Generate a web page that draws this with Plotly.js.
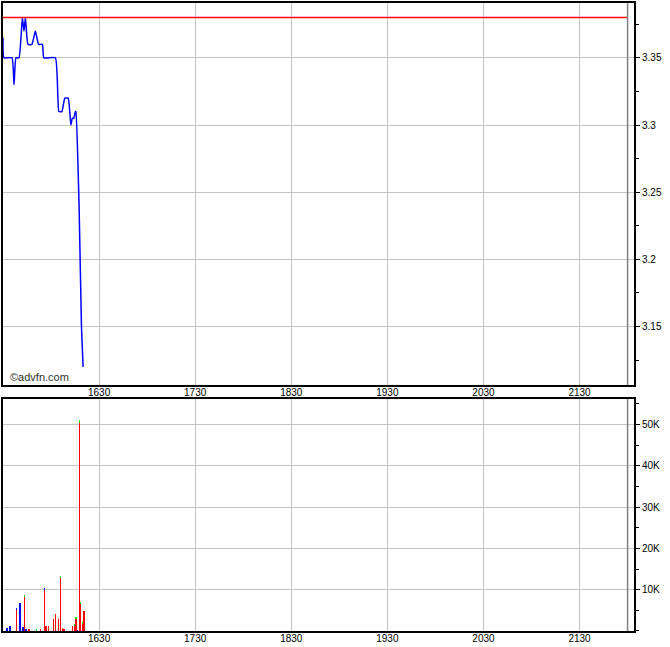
<!DOCTYPE html>
<html>
<head>
<meta charset="utf-8">
<script src="https://cdn.plot.ly/plotly-3.0.1.min.js"></script>
<style>html,body{margin:0;padding:0;background:#fff;}#chart{width:670px;height:647px;}</style>
</head>
<body>
<div id="chart"></div>
<script>
var DAY = '2024-01-02 ';
var priceTimes = ['15:30:00','15:30:36','15:35:36','15:36:54','15:38:06','15:40:00','15:42:06','15:43:06','15:44:00','15:45:36','15:48:06','15:50:12','15:52:12','15:54:36','15:55:30','16:02:42','16:04:54','16:06:48','16:08:36','16:10:42','16:12:24','16:13:18','16:14:12','16:15:12','16:15:30','16:17:30','16:19:00','16:20:00'];
var prices = [3.365,3.35,3.35,3.33,3.35,3.35,3.38,3.37,3.38,3.36,3.36,3.37,3.36,3.36,3.35,3.35,3.31,3.31,3.32,3.32,3.30,3.305,3.305,3.31,3.31,3.24,3.15,3.12];
var prevClose = 3.38;

var volTimes = ['15:32:30','15:34:24','15:38:18','15:40:36','15:42:30','15:43:18','15:44:24','15:46:12','15:51:00','15:53:24','15:55:48','15:56:48','15:58:18','16:01:42','16:02:48','16:04:30','16:05:48','16:07:00','16:08:06','16:13:18','16:14:30','16:15:36','16:16:24','16:17:36','16:18:18','16:19:30','16:20:36'];
var volDown    = [0,0,5200,0,0,8200,0,500,0,500,9900,1300,1300,2800,4200,2800,12800,700,400,1300,1100,3000,0,50500,6600,1700,4900];
var volUp      = [0,0,0,0,0,500,0,0,500,0,0,0,0,0,0,0,500,0,0,0,500,300,0,600,500,500,0];
var volNeutral = [800,1100,300,6900,1000,0,600,0,0,0,400,0,0,0,0,0,0,0,0,0,0,0,300,0,0,0,0];

var volTickVals = [10000,20000,30000,40000,50000];
var volTickText = ['10K','20K','30K','40K','50K'];

var sessionStart = DAY + '15:30:00';
var sessionEnd = DAY + '22:00:00';
var axisEnd = DAY + '22:04:00';

function withDay(a){ return a.map(function(t){ return DAY + t; }); }
var px = withDay(priceTimes);
var vx = withDay(volTimes);

var traces = [
  {x: px, y: prices, type: 'scatter', mode: 'lines', line: {color: '#0000ff', width: 1.5, shape: 'spline', smoothing: 0.4}, xaxis: 'x', yaxis: 'y', hoverinfo: 'skip'},
  {x: vx, y: volDown, type: 'bar', marker: {color: '#ff0000', line: {width: 0}}, width: 50000, xaxis: 'x2', yaxis: 'y2'},
  {x: vx, y: volUp, type: 'bar', marker: {color: '#00ee00', line: {width: 0}}, width: 50000, xaxis: 'x2', yaxis: 'y2'},
  {x: vx, y: volNeutral, type: 'bar', marker: {color: '#0000ff', line: {width: 0}}, width: 50000, xaxis: 'x2', yaxis: 'y2'}
];

var font = {family: 'Liberation Sans, Arial, sans-serif', size: 10, color: '#000'};
var xCommon = {
  type: 'date', range: [sessionStart, axisEnd], tickformat: '%H%M',
  dtick: 3600000, tick0: DAY + '16:30:00', ticks: '',
  showgrid: true, gridcolor: '#c4c4c4', gridwidth: 1,
  showline: true, mirror: true, linecolor: '#000', linewidth: 2,
  zeroline: false, tickfont: font, fixedrange: true, ticklabelstandoff: -3
};
var xa1 = Object.assign({}, xCommon, {anchor: 'y'});
var xa2 = Object.assign({}, xCommon, {anchor: 'y2', matches: 'x'});

var layout = {
  width: 670, height: 647,
  margin: {l: 3, r: 36, t: 3, b: 16, pad: 0},
  paper_bgcolor: '#fff', plot_bgcolor: '#fff',
  showlegend: false, barmode: 'stack', bargap: 0,
  font: font,
  xaxis: xa1,
  xaxis2: xa2,
  yaxis: {
    domain: [0.3917, 1], anchor: 'x', side: 'right',
    range: [3.1065, 3.3908], dtick: 0.05, tick0: 3.15,
    ticks: 'outside', ticklen: 4, tickcolor: '#000',
    minor: {dtick: 0.025, tick0: 3.15, ticks: 'outside', ticklen: 3, tickcolor: '#000', showgrid: false},
    showgrid: true, gridcolor: '#c4c4c4', gridwidth: 1,
    showline: true, mirror: true, linecolor: '#000', linewidth: 2,
    zeroline: false, tickfont: font
  },
  yaxis2: {
    domain: [0, 0.3694], anchor: 'x2', side: 'right',
    range: [0, 56200], tickvals: volTickVals, ticktext: volTickText,
    ticks: 'outside', ticklen: 4, tickcolor: '#000',
    minor: {dtick: 5000, tick0: 0, ticks: 'outside', ticklen: 3, tickcolor: '#000', showgrid: false},
    showgrid: true, gridcolor: '#c4c4c4', gridwidth: 1,
    showline: true, mirror: true, linecolor: '#000', linewidth: 2,
    zeroline: false, tickfont: font
  },
  shapes: [
    {type: 'line', xref: 'x', yref: 'y', x0: sessionStart, x1: sessionEnd, y0: prevClose, y1: prevClose, line: {color: '#ff0000', width: 1.5}},
    {type: 'line', xref: 'x', yref: 'y domain', x0: sessionEnd, x1: sessionEnd, y0: 0, y1: 1, line: {color: '#808080', width: 1.5}},
    {type: 'line', xref: 'x2', yref: 'y2 domain', x0: sessionEnd, x1: sessionEnd, y0: 0, y1: 1, line: {color: '#808080', width: 1.5}}
  ],
  annotations: [
    {text: '©advfn.com', xref: 'paper', yref: 'paper', x: 0.008, y: 0.404, xanchor: 'left', yanchor: 'middle', showarrow: false, font: {family: 'Liberation Sans, Arial, sans-serif', size: 11, color: '#333'}}
  ]
};

Plotly.newPlot('chart', traces, layout, {staticPlot: true, displayModeBar: false});
</script>
</body>
</html>
